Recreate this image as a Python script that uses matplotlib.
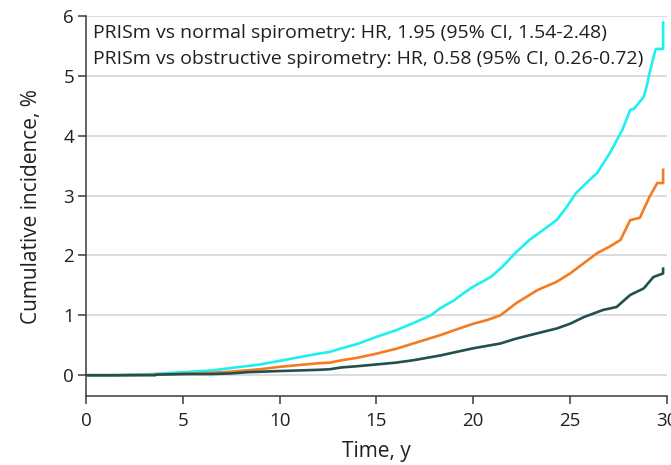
import matplotlib.pyplot as plt
import numpy as np

plt.rcParams['font.family'] = ['Open Sans', 'DejaVu Sans']

# cumulative incidence (%), time in years
t_cyan = [0, 1.5, 3.5, 5, 6.5, 7.5, 9, 10, 11, 12, 12.6, 13.2, 14, 15, 16, 16.9, 17.8, 18.3,
          19, 19.5, 20, 20.9, 21.5, 22.2, 22.9, 23.5, 24.3, 24.8, 25.3, 25.8, 26.4, 27.05,
          27.7, 28.1, 28.3, 28.8, 28.95, 29.1, 29.4, 29.45, 29.8, 29.8]
v_cyan = [0, 0, 0.02, 0.05, 0.08, 0.12, 0.18, 0.24, 0.3, 0.36, 0.39, 0.45, 0.52, 0.64, 0.75,
          0.87, 1.0, 1.12, 1.25, 1.37, 1.48, 1.64, 1.81, 2.05, 2.26, 2.4, 2.59, 2.8, 3.04,
          3.2, 3.38, 3.71, 4.1, 4.43, 4.45, 4.65, 4.82, 5.05, 5.43, 5.45, 5.45, 5.89]

t_orange = [0, 1.5, 3.5, 5, 6.5, 7.5, 9, 10, 11, 12, 12.6, 13.2, 14, 15, 16, 16.9, 18.3, 19,
            20, 20.7, 21.4, 22.2, 23.3, 24.3, 25, 25.7, 26.4, 27.05, 27.6, 28.1, 28.6, 29.1,
            29.5, 29.8, 29.8]
v_orange = [0, 0, 0.01, 0.02, 0.04, 0.06, 0.1, 0.14, 0.17, 0.2, 0.21, 0.25, 0.29, 0.36, 0.44,
            0.53, 0.67, 0.75, 0.86, 0.92, 1.0, 1.2, 1.42, 1.56, 1.7, 1.87, 2.04, 2.15, 2.26,
            2.59, 2.63, 2.98, 3.21, 3.21, 3.43]

t_teal = [0, 3.6, 3.6, 5, 6.5, 7.5, 8.3, 10, 11, 12, 12.6, 13.2, 14, 15, 16, 16.9, 18.3,
          19, 20, 21.4, 22.2, 23.3, 24.3, 25, 25.7, 26.7, 27.4, 28.1, 28.8, 29.3, 29.8, 29.8]
v_teal = [0, 0, 0.01, 0.02, 0.02, 0.03, 0.05, 0.07, 0.08, 0.09, 0.1, 0.13, 0.15, 0.18,
          0.21, 0.25, 0.33, 0.38, 0.45, 0.53, 0.61, 0.7, 0.78, 0.86, 0.97, 1.09, 1.14, 1.34,
          1.45, 1.64, 1.7, 1.78]

xticks = [0, 5, 10, 15, 20, 25, 30]
yticks = [0, 1, 2, 3, 4, 5, 6]
note_lines = ["PRISm vs normal spirometry: HR, 1.95 (95% CI, 1.54-2.48)",
              "PRISm vs obstructive spirometry: HR, 0.58 (95% CI, 0.26-0.72)"]

fig = plt.figure(figsize=(6.71, 4.65), dpi=100)
ax = fig.add_axes([0.128, 0.148, 0.866, 0.8176])

ax.plot(t_cyan, v_cyan, color='#1ef0f2', lw=1.9, zorder=3)
ax.plot(t_orange, v_orange, color='#f37c22', lw=1.9, zorder=3)
ax.plot(t_teal, v_teal, color='#21504f', lw=1.9, zorder=4)

ax.set_xlim(0, 30)
ax.set_ylim(-0.35, 6)
ax.set_xticks(xticks)
ax.set_yticks(yticks)
ax.grid(axis='y', color='#d9d9d9', lw=1.3, zorder=0)
for s in ['top', 'right']:
    ax.spines[s].set_visible(False)
for s in ['left', 'bottom']:
    ax.spines[s].set_color('#3a3a3a')
    ax.spines[s].set_linewidth(1.1)
ax.tick_params(length=5.5, width=1.1, color='#3a3a3a', labelsize=13.5,
               labelcolor='#231f20')
ax.tick_params(axis='x', pad=6)
ax.tick_params(axis='y', pad=3)
ax.set_xlabel('Time, y', fontsize=15, color='#231f20', labelpad=8)
ax.set_ylabel('Cumulative incidence, %', fontsize=15, color='#231f20', labelpad=15)

ax.text(0.35, 5.72, note_lines[0], fontsize=14, color='#231f20', va='center')
ax.text(0.35, 5.29, note_lines[1], fontsize=14, color='#231f20', va='center')

fig.savefig('out.png', dpi=100)
